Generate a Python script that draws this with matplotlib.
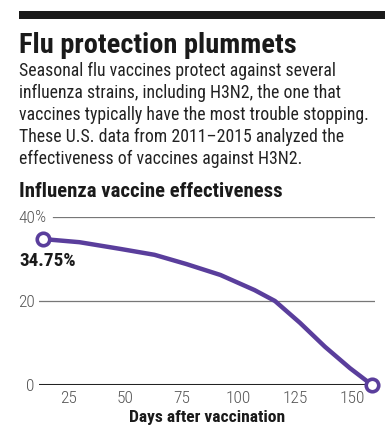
import matplotlib
matplotlib.use('Agg')
import matplotlib.pyplot as plt
import matplotlib.transforms as mtransforms
from matplotlib.patches import Rectangle

# effectiveness curve (days after vaccination, % effective)
days = [14, 30, 48, 63, 77, 92, 107, 116, 127, 138, 149, 158.7]
effect = [34.75, 34.0, 32.4, 31.0, 28.8, 26.2, 22.6, 20.0, 14.8, 9.1, 4.0, 0.0]
xticks = [25, 50, 75, 100, 125, 150]
yticks = [0, 20, 40]
ylabels = ['0', '20', '40']

title = 'Flu protection plummets'
body = ['Seasonal flu vaccines protect against several',
        'influenza strains, including H3N2, the one that',
        'vaccines typically have the most trouble stopping.',
        'These U.S. data from 2011\u20132015 analyzed the',
        'effectiveness of vaccines against H3N2.']
subtitle = 'Influenza vaccine effectiveness'

PURPLE = '#5a3e9c'
W, H = 388, 429
plt.rcParams['font.family'] = ['Roboto Condensed', 'Liberation Sans Narrow',
                               'DejaVu Sans Condensed', 'Roboto']

fig = plt.figure(figsize=(W/100, H/100), dpi=100)
fig.patch.set_facecolor('white')
renderer = fig.canvas.get_renderer()

def fy(px):
    return 1 - px/H

def fit(txt, width_px):
    # scale font so the text spans the same width as in the reference
    bb = txt.get_window_extent(renderer)
    txt.set_fontsize(txt.get_fontsize()*width_px/bb.width)
    return txt.get_fontsize()

# top rule
fig.patches.append(Rectangle((19/W, fy(19)), (385-19)/W, 8/H, transform=fig.transFigure,
                             color='#1a1a1a', lw=0))
t = fig.text(19/W, fy(53), title, fontsize=20, fontweight='bold', color='#1a1a1a', va='baseline')
fit(t, 277)
lines = [fig.text(19/W, fy(76 + 22*i), line, fontsize=12, color='#222222', va='baseline')
         for i, line in enumerate(body)]
bsize = fit(lines[2], 349)
for ln in lines:
    ln.set_fontsize(bsize)
st = fig.text(19/W, fy(197), subtitle, fontsize=13, fontweight='bold', color='#1a1a1a',
              va='baseline')
fit(st, 263)

ax = fig.add_axes([39/W, fy(385), 336/W, (385-217)/H])
ax.set_xlim(12.2, 160)
ax.set_ylim(0, 40)
for s in ax.spines.values():
    s.set_visible(False)

ax.axhline(40, xmin=(53-39)/336, color='#777777', lw=0.9)
ax.axhline(20, color='#777777', lw=0.9)
ax.axhline(0, color='#222222', lw=2.2, zorder=2)

ax.plot(days, effect, color=PURPLE, lw=3.2, solid_capstyle='round', solid_joinstyle='round',
        zorder=3, clip_on=False)
ax.plot([days[0], days[-1]], [effect[0], effect[-1]], 'o', ms=9, mfc='white', mec=PURPLE,
        mew=2.6, zorder=4, clip_on=False)
lab = ax.annotate(f'{effect[0]:.2f}%', xy=(days[0], effect[0]), xytext=(-24, -22),
                  textcoords='offset pixels', ha='left', va='center', fontsize=12,
                  fontweight='bold', color='#1a1a1a')
fit(lab, 56)

tick_size = 12.5
tick_kw = dict(fontsize=tick_size, fontweight='light', color='#555555')
ax.set_xticks(xticks)
ax.set_xticklabels([str(t) for t in xticks], **tick_kw)
ax.set_yticks(yticks)
ax.set_yticklabels(ylabels, **tick_kw)
ax.tick_params(length=0)
ax.tick_params(axis='x', pad=4)
ax.tick_params(axis='y', pad=3)
trans = mtransforms.blended_transform_factory(ax.transAxes, ax.transData)
ax.text(-0.012, 40, '%', transform=trans, ha='left', va='center', **tick_kw)
xl = ax.set_xlabel('Days after vaccination', fontsize=12, fontweight='bold', color='#1a1a1a',
                   labelpad=3)
fit(xl, 156)

fig.savefig('out.png', dpi=100)
